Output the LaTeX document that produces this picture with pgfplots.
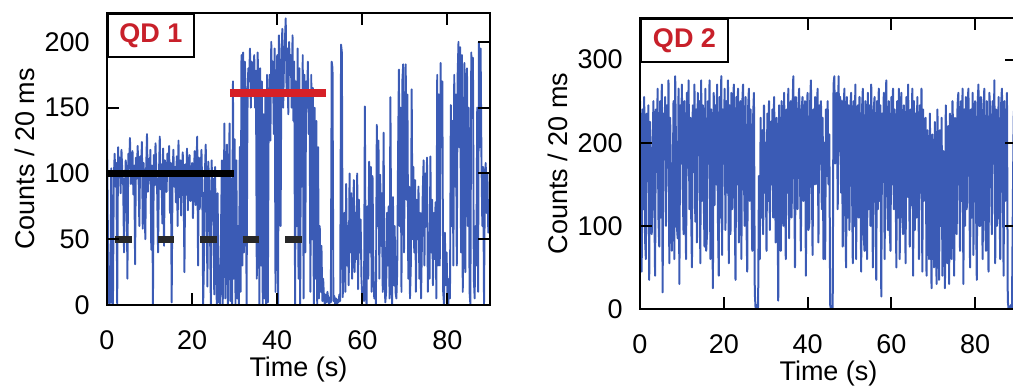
\documentclass[border=0pt]{standalone}
\usepackage{pgfplots}
\pgfplotsset{compat=1.18}
\usepackage{fontspec}
\setmainfont{Liberation Sans}
\definecolor{trace}{RGB}{59,91,181}
\definecolor{qdred}{RGB}{200,32,42}
\definecolor{barred}{RGB}{214,32,39}
\definecolor{dashc}{RGB}{40,40,40}
\pgfplotsset{qd/.style={
  scale only axis, axis on top, axis line style={line width=1pt},
  tick align=inside, major tick length=6pt, tick style={line width=1pt,black},
  xmin=0,xmax=90, xtick={0,20,40,60,80}, ymin=0,
  /pgf/number format/assume math mode=true,
  ticklabel style={font=\fontsize{13.5}{15}\selectfont},
  xticklabel style={inner sep=0pt, yshift=-12.5pt},
  yticklabel style={inner sep=0pt, xshift=-8.5pt},
  xlabel={Time (s)}, ylabel={Counts / 20 ms},
  every axis x label/.style={at={(axis description cs:0.5,0)},anchor=north,inner sep=0pt,yshift=-26pt,font=\fontsize{13.5}{15}\selectfont},
}}
\begin{document}
\begin{tikzpicture}
\begin{axis}[qd, name=ax1, at={(53.5pt,40.5pt)}, anchor=south west,
  width=191.5pt, height=146pt, ymax=222, ytick={0,50,100,150,200},
  every axis y label/.style={at={(axis description cs:-0.214,0.5)},anchor=center,rotate=90,inner sep=0pt,font=\fontsize{13.5}{15}\selectfont}]
\addplot[trace, line width=0.95pt, line join=round, no markers] table[header=false, row sep=\\, x expr=\coordindex*0.2, y index=0] {
138\\60\\3\\0\\6\\104\\2\\0\\96\\115\\
90\\108\\0\\120\\97\\112\\85\\118\\101\\93\\
40\\88\\110\\98\\20\\115\\104\\127\\92\\109\\
117\\84\\106\\31\\112\\96\\121\\102\\60\\113\\
99\\124\\58\\108\\90\\50\\103\\130\\86\\111\\
95\\118\\42\\106\\0\\114\\91\\123\\100\\84\\
40\\97\\128\\88\\107\\62\\119\\45\\110\\104\\
86\\115\\99\\121\\70\\108\\2\\96\\118\\90\\
105\\78\\113\\60\\125\\82\\110\\68\\100\\116\\
91\\25\\107\\84\\119\\72\\103\\114\\79\\98\\
108\\66\\96\\117\\76\\104\\128\\30\\112\\73\\
101\\118\\85\\0\\35\\99\\122\\80\\14\\109\\
94\\60\\0\\110\\72\\96\\8\\105\\40\\0\\
85\\2\\30\\0\\60\\110\\0\\70\\138\\5\\
40\\122\\0\\82\\138\\3\\96\\0\\170\\20\\
126\\0\\110\\5\\60\\0\\120\\10\\190\\30\\
192\\40\\185\\160\\0\\145\\180\\170\\195\\150\\
185\\160\\175\\190\\150\\178\\20\\192\\165\\0\\
180\\30\\170\\0\\145\\5\\160\\0\\175\\2\\
150\\175\\125\\200\\160\\185\\130\\195\\10\\155\\
190\\0\\205\\165\\60\\190\\210\\150\\185\\200\\
218\\160\\195\\145\\200\\175\\190\\150\\205\\140\\
185\\0\\170\\60\\195\\20\\180\\0\\160\\90\\
190\\5\\175\\40\\170\\150\\185\\130\\160\\10\\
175\\50\\165\\0\\150\\20\\140\\0\\120\\5\\
60\\10\\45\\3\\20\\5\\0\\8\\2\\10\\
4\\0\\6\\2\\185\\180\\3\\7\\1\\5\\
0\\4\\2\\8\\3\\198\\192\\6\\45\\70\\
10\\92\\30\\60\\15\\100\\40\\85\\20\\55\\
95\\25\\70\\35\\100\\12\\80\\40\\65\\20\\
5\\12\\3\\151\\8\\0\\75\\20\\109\\40\\
105\\10\\98\\30\\5\\15\\0\\137\\60\\125\\
20\\99\\45\\85\\10\\131\\25\\2\\10\\70\\
30\\75\\5\\158\\40\\0\\82\\15\\60\\10\\
5\\25\\115\\179\\60\\150\\10\\170\\183\\40\\
120\\183\\80\\160\\20\\90\\5\\30\\164\\50\\
105\\40\\95\\10\\80\\50\\90\\20\\70\\5\\
45\\85\\110\\30\\100\\60\\112\\10\\55\\20\\
113\\40\\80\\15\\70\\35\\78\\5\\175\\30\\
160\\30\\184\\120\\170\\10\\0\\55\\15\\40\\
8\\0\\20\\5\\152\\60\\140\\30\\175\\90\\
160\\30\\175\\200\\120\\196\\40\\190\\10\\60\\
184\\25\\170\\180\\60\\150\\10\\0\\192\\150\\
188\\20\\5\\60\\30\\150\\10\\200\\120\\195\\
110\\60\\105\\0\\95\\108\\70\\100\\55\\60\\
60\\
};
\addplot[black, line width=3.5pt, no markers] coordinates {(0,100) (29.9,100)};
\addplot[barred, line width=4pt, no markers] coordinates {(28.9,161.5) (51.5,161.5)};
\addplot[dashc, line width=3.5pt, no markers, unbounded coords=jump] coordinates {
(1.9,50) (5.8,50) (8,nan) (11.9,50) (15.8,50) (18,nan) (21.9,50) (25.8,50) (28,nan) (31.9,50) (35.8,50) (38,nan) (41.9,50) (45.8,50)};
\end{axis}
\begin{axis}[qd, name=ax2, at={(320pt,38.5pt)}, anchor=south west,
  width=188.5pt, height=145.5pt, ymax=350, ytick={0,100,200,300},
  every axis y label/.style={at={(axis description cs:-0.2175,0.5)},anchor=center,rotate=90,inner sep=0pt,font=\fontsize{13.5}{15}\selectfont}]
\addplot[trace, line width=1pt, line join=round, no markers] table[header=false, row sep=\\, x expr=\coordindex*0.2, y index=0] {
250\\175\\45\\240\\120\\255\\85\\60\\235\\170\\
245\\35\\225\\150\\90\\180\\250\\140\\40\\240\\
165\\265\\110\\75\\250\\110\\270\\20\\235\\180\\
255\\100\\245\\170\\275\\55\\230\\150\\70\\130\\
250\\60\\280\\190\\100\\85\\265\\30\\245\\175\\
270\\145\\90\\250\\130\\60\\260\\170\\275\\120\\
230\\120\\50\\245\\165\\270\\105\\240\\80\\260\\
185\\250\\55\\275\\130\\245\\140\\75\\265\\70\\
90\\250\\175\\275\\60\\240\\160\\25\\260\\125\\
245\\150\\270\\110\\40\\255\\110\\280\\65\\240\\
175\\265\\95\\250\\140\\275\\55\\245\\90\\260\\
120\\240\\270\\130\\35\\255\\150\\265\\80\\235\\
250\\60\\245\\270\\165\\100\\255\\110\\45\\240\\
265\\130\\240\\150\\70\\230\\260\\20\\0\\5\\
0\\3\\160\\60\\230\\110\\215\\90\\245\\140\\
200\\70\\235\\130\\250\\95\\225\\150\\240\\110\\
255\\180\\80\\230\\160\\10\\245\\120\\70\\250\\
225\\100\\260\\175\\60\\240\\140\\265\\85\\235\\
250\\110\\240\\280\\170\\50\\255\\190\\120\\245\\
265\\160\\70\\240\\255\\130\\180\\250\\40\\230\\
260\\95\\100\\245\\275\\170\\65\\240\\150\\255\\
150\\235\\265\\80\\245\\175\\250\\120\\230\\60\\
200\\60\\240\\160\\250\\150\\210\\5\\0\\2\\
0\\270\\280\\175\\240\\260\\120\\280\\190\\255\\
140\\250\\75\\240\\265\\110\\50\\255\\110\\245\\
95\\240\\260\\160\\55\\250\\100\\270\\60\\235\\
245\\110\\255\\170\\45\\240\\265\\90\\70\\250\\
230\\60\\260\\120\\245\\100\\270\\150\\50\\240\\
255\\165\\35\\250\\120\\265\\130\\245\\15\\235\\
180\\260\\60\\240\\275\\140\\95\\250\\100\\70\\
255\\150\\265\\120\\240\\175\\50\\250\\110\\265\\
60\\235\\260\\110\\90\\245\\185\\55\\255\\135\\
270\\170\\75\\240\\125\\265\\40\\250\\95\\235\\
110\\255\\180\\60\\245\\140\\265\\45\\240\\130\\
180\\230\\40\\215\\150\\60\\235\\120\\25\\210\\
170\\50\\225\\130\\30\\240\\160\\35\\215\\100\\
230\\40\\190\\145\\25\\245\\170\\55\\220\\30\\
235\\150\\60\\250\\200\\40\\230\\180\\90\\245\\
260\\165\\70\\250\\130\\265\\30\\240\\100\\255\\
120\\245\\265\\160\\50\\240\\110\\260\\65\\235\\
250\\140\\35\\245\\270\\100\\100\\255\\150\\60\\
240\\265\\110\\70\\250\\125\\45\\260\\240\\165\\
90\\250\\175\\275\\55\\240\\100\\120\\255\\140\\
60\\245\\265\\180\\40\\250\\130\\150\\260\\10\\
0\\3\\0\\5\\0\\120\\230\\250\\175\\245\\
230\\
};
\end{axis}
\node[draw, line width=1pt, fill=white, minimum width=43pt, minimum height=21.5pt, anchor=north west, inner sep=0pt, text=qdred, font=\fontsize{13.5}{15}\selectfont\bfseries] at (ax1.north west) {QD 1};
\node[draw, line width=1pt, fill=white, minimum width=43.5pt, minimum height=21.5pt, anchor=north west, inner sep=0pt, text=qdred, font=\fontsize{13.5}{15}\selectfont\bfseries] at (ax2.north west) {QD 2};
\pgfresetboundingbox
\useasboundingbox (0,0) rectangle (506.5pt,193pt);
\end{tikzpicture}
\end{document}
